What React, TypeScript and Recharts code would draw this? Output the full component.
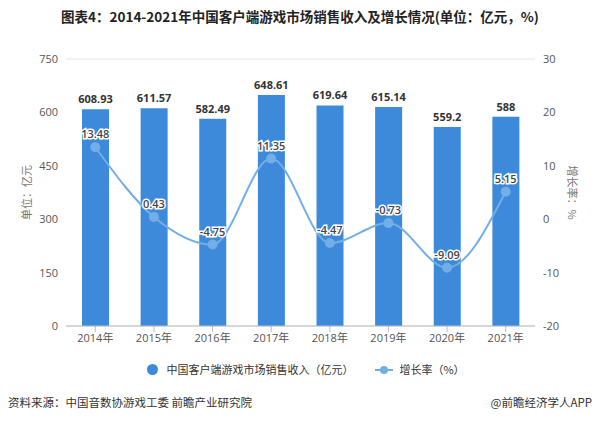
import React from 'react';
import { ComposedChart, Bar, Line, XAxis, YAxis, CartesianGrid, LabelList } from 'recharts';

const years = ['2014年', '2015年', '2016年', '2017年', '2018年', '2019年', '2020年', '2021年'];
const revenue = [608.93, 611.57, 582.49, 648.61, 619.64, 615.14, 559.2, 588];
const growth = [13.48, 0.43, -4.75, 11.35, -4.47, -0.73, -9.09, 5.15];
const leftTicks = [0, 150, 300, 450, 600, 750];
const rightTicks = [-20, -10, 0, 10, 20, 30];

const BAR_COLOR = '#3c8ad9';
const LINE_COLOR = '#74aee6';
const FONT = '"Open Sans", "Noto Sans CJK SC", sans-serif';
const CJK = '"Noto Sans CJK SC", sans-serif';

const data = years.map((year, i) => ({ year, revenue: revenue[i], growth: growth[i] }));

const GrowthLabel: React.FC<any> = ({ x, y, value }) => (
  <text
    x={x}
    y={y - 9}
    textAnchor="middle"
    fontSize={11}
    fontWeight={600}
    fill="#444"
    stroke="#fff"
    strokeWidth={3}
    paintOrder="stroke"
    fontFamily={FONT}
  >
    {value}
  </text>
);

const App: React.FC = () => {
  return (
    <div style={{ position: 'absolute', left: 0, top: 0, width: 600, height: 423, background: '#fff', fontFamily: FONT }}>
      <div style={{ position: 'absolute', top: 6, left: 0, width: 600, textAlign: 'center', fontSize: 13.5, fontWeight: 700, color: '#222', fontFamily: CJK }}>
        图表4：2014-2021年中国客户端游戏市场销售收入及增长情况(单位：亿元，%)
      </div>
      <ComposedChart
        width={600}
        height={352}
        data={data}
        margin={{ top: 59, right: 25, left: 26, bottom: 0 }}
        style={{ position: 'absolute', left: 0, top: 0 }}
      >
        <CartesianGrid vertical={false} stroke="#e3e3e3" />
        <XAxis
          dataKey="year"
          tick={{ fontSize: 11, fill: '#555', fontFamily: FONT }}
          tickLine={{ stroke: '#bbb' }}
          axisLine={{ stroke: '#bbb' }}
          height={26}
        />
        <YAxis
          yAxisId="left"
          domain={[0, 750]}
          ticks={leftTicks}
          width={40}
          tick={{ fontSize: 11, fill: '#555', fontFamily: FONT }}
          axisLine={false}
          tickLine={false}
          label={{ value: '单位：亿元', angle: -90, position: 'insideLeft', offset: 1, style: { fontSize: 11, fill: '#777', fontFamily: CJK, textAnchor: 'middle' } }}
        />
        <YAxis
          yAxisId="right"
          orientation="right"
          domain={[-20, 30]}
          ticks={rightTicks}
          width={40}
          tick={{ fontSize: 11, fill: '#555', fontFamily: FONT }}
          axisLine={false}
          tickLine={false}
          label={{ value: '增长率：%', angle: 90, position: 'insideRight', offset: 3, style: { fontSize: 11, fill: '#777', fontFamily: CJK, textAnchor: 'middle' } }}
        />
        <Bar yAxisId="left" dataKey="revenue" fill={BAR_COLOR} barSize={27} isAnimationActive={false}>
          <LabelList dataKey="revenue" position="top" offset={6} fill="#333" fontSize={11} fontWeight={700} fontFamily={FONT} />
        </Bar>
        <Line
          yAxisId="right"
          dataKey="growth"
          stroke={LINE_COLOR}
          strokeWidth={2}
          type="monotone"
          dot={{ r: 4, fill: LINE_COLOR, stroke: LINE_COLOR }}
          isAnimationActive={false}
        >
          <LabelList dataKey="growth" content={<GrowthLabel />} />
        </Line>
      </ComposedChart>
      <div style={{ position: 'absolute', top: 361, left: 6, width: 600, display: 'flex', justifyContent: 'center', alignItems: 'center', fontSize: 11, color: '#333', fontFamily: CJK }}>
        <span style={{ display: 'inline-block', width: 11, height: 11, borderRadius: '50%', background: BAR_COLOR, marginRight: 8 }} />
        <span>中国客户端游戏市场销售收入（亿元）</span>
        <span style={{ display: 'inline-block', position: 'relative', width: 18, height: 11, marginLeft: 22, marginRight: 6 }}>
          <span style={{ position: 'absolute', left: 0, top: 5, width: 18, height: 2, background: LINE_COLOR }} />
          <span style={{ position: 'absolute', left: 5, top: 2, width: 8, height: 8, borderRadius: '50%', background: LINE_COLOR }} />
        </span>
        <span>增长率（%）</span>
      </div>
      <div style={{ position: 'absolute', top: 394, left: 8, fontSize: 11.5, color: '#333', fontFamily: CJK }}>
        资料来源：中国音数协游戏工委 前瞻产业研究院
      </div>
      <div style={{ position: 'absolute', top: 394, right: 8, fontSize: 11.5, color: '#333', fontFamily: CJK }}>
        @前瞻经济学人APP
      </div>
    </div>
  );
};

export default App;
